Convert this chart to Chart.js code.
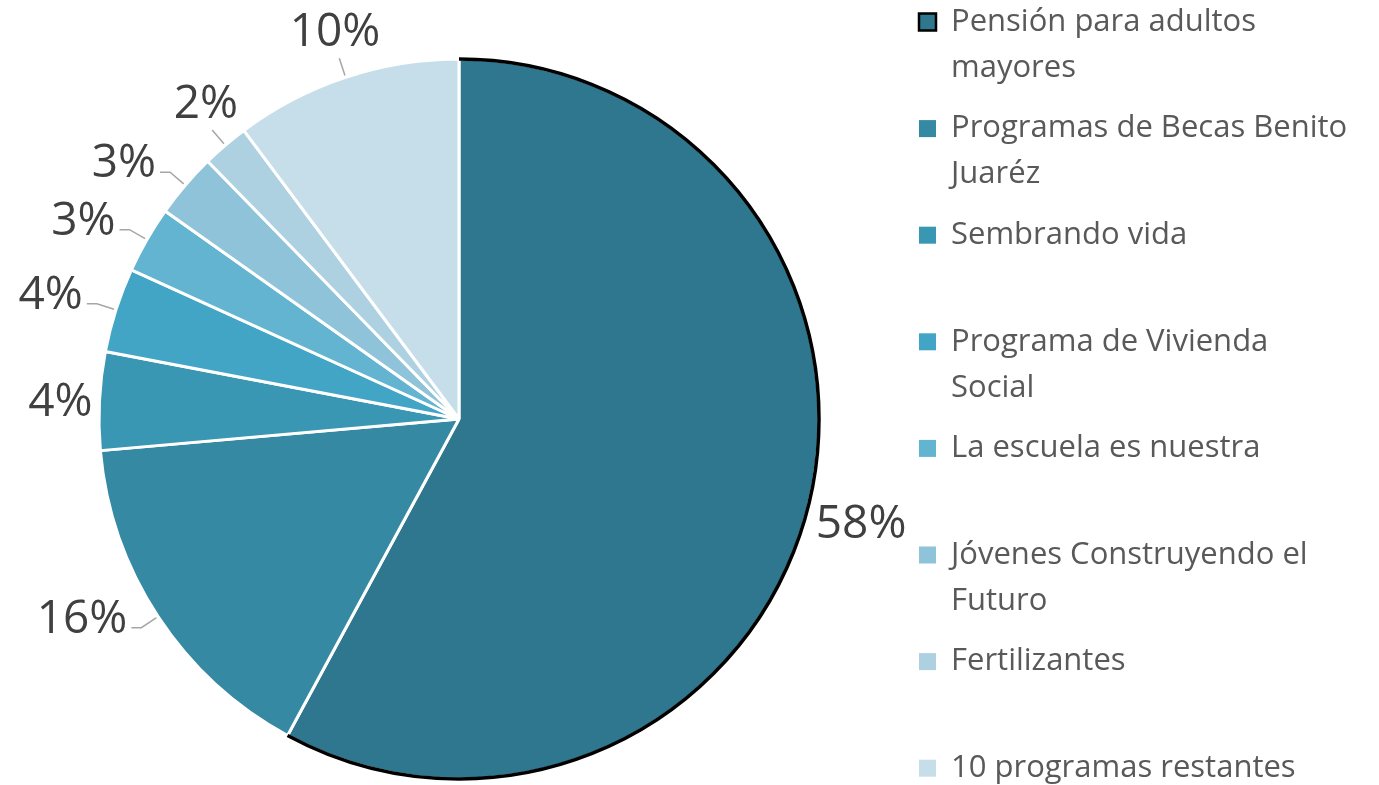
<!DOCTYPE html>
<html><head><meta charset="utf-8">
<script src="https://cdn.jsdelivr.net/npm/chart.js@4/dist/chart.umd.min.js"></script>
<style>html,body{margin:0;padding:0;background:#fff;}#wrap{width:1379px;height:785px;}</style>
</head><body><div id="wrap"><canvas id="c" width="1379" height="785"></canvas></div>
<script>
const categories = [
  ["Pensión para adultos", "mayores"],
  ["Programas de Becas Benito", "Juaréz"],
  ["Sembrando vida"],
  ["Programa de Vivienda", "Social"],
  ["La escuela es nuestra"],
  ["Jóvenes Construyendo el", "Futuro"],
  ["Fertilizantes"],
  ["10 programas restantes"]
];
const shares = [57.9, 15.7, 4.4, 3.8, 3.0, 2.9, 2.1, 10.2];
const percentLabels = shares.map(v => Math.round(v) + "%");
const colors = ["#2E778F", "#3589A3", "#3A97B4", "#42A5C6", "#63B4D1", "#8FC3D9", "#AED1E1", "#C6DEE9"];

const FONT = '"Open Sans", Lato, sans-serif';

const outlinePlugin = {
  id: 'outline',
  afterDatasetsDraw(chart) {
    const arc = chart.getDatasetMeta(0).data[0];
    const p = arc.getProps(['x','y','startAngle','endAngle','outerRadius'], true);
    const ctx = chart.ctx;
    ctx.save();
    ctx.beginPath();
    ctx.arc(p.x, p.y, p.outerRadius, p.startAngle, p.endAngle);
    ctx.strokeStyle = '#000';
    ctx.lineWidth = 3.5;
    ctx.stroke();
    ctx.restore();
  }
};

const labelPlugin = {
  id: 'pctLabels',
  afterDraw(chart) {
    const ctx = chart.ctx;
    const meta = chart.getDatasetMeta(0);
    ctx.save();
    ctx.font = '46px ' + FONT;
    ctx.fillStyle = '#404040';
    ctx.strokeStyle = '#A6A6A6';
    ctx.lineWidth = 1.5;
    ctx.textBaseline = 'alphabetic';
    meta.data.forEach((arc, i) => {
      const p = arc.getProps(['x','y','startAngle','endAngle','outerRadius'], true);
      const mid = (p.startAngle + p.endAngle) / 2;
      const dx = Math.cos(mid), dy = Math.sin(mid);
      const R = p.outerRadius;
      const txt = percentLabels[i];
      const m = ctx.measureText(txt);
      const w = m.width;
      const cap = m.actualBoundingBoxAscent;
      const h = 40;
      if (Math.abs(dy) < 0.28) {
        const D = R + Math.abs(dx) * w / 2 + Math.abs(dy) * h / 2 + 6;
        const cx = p.x + dx * D, cy = p.y + dy * D;
        ctx.textAlign = 'center';
        ctx.fillText(txt, cx, cy + cap / 2);
      } else {
        const px = p.x + dx * (R + 2), py = p.y + dy * (R + 2);
        const ex = p.x + dx * (R + 20), ey = p.y + dy * (R + 20);
        ctx.beginPath();
        ctx.moveTo(px, py);
        ctx.lineTo(ex, ey);
        if (Math.abs(dx) >= Math.abs(dy)) {
          const s = Math.sign(dx);
          const tx = ex + s * 10;
          ctx.lineTo(tx, ey);
          ctx.stroke();
          ctx.textAlign = s < 0 ? 'right' : 'left';
          ctx.fillText(txt, tx + s * 4, ey - 12 + cap / 2);
        } else {
          ctx.stroke();
          ctx.textAlign = 'center';
          ctx.fillText(txt, ex + dx * w * 0.15, ey - 12);
        }
      }
    });
    ctx.restore();
  }
};

const legendPlugin = {
  id: 'sideLegend',
  afterDraw(chart) {
    const ctx = chart.ctx;
    const x0 = 919, textX = 951, y0 = 22, step = 106.6, lineH = 46, box = 17;
    ctx.save();
    ctx.font = '31px ' + FONT;
    ctx.textBaseline = 'middle';
    ctx.textAlign = 'left';
    categories.forEach((lines, i) => {
      const y = y0 + i * step;
      ctx.fillStyle = colors[i];
      ctx.fillRect(x0, y - box / 2, box, box);
      if (i === 0) {
        ctx.strokeStyle = '#000';
        ctx.lineWidth = 2.5;
        ctx.strokeRect(x0, y - box / 2, box, box);
      }
      ctx.fillStyle = '#595959';
      lines.forEach((l, j) => ctx.fillText(l, textX, y + j * lineH));
    });
    ctx.restore();
  }
};

new Chart(document.getElementById('c'), {
  type: 'pie',
  data: {
    labels: categories,
    datasets: [{
      data: shares,
      backgroundColor: colors,
      borderColor: '#FFFFFF',
      borderWidth: 3
    }]
  },
  options: {
    responsive: false,
    animation: false,
    layout: { padding: { left: 97.5, top: 57.5, right: 558.5, bottom: 4.5 } },
    plugins: { legend: { display: false }, tooltip: { enabled: false } }
  },
  plugins: [outlinePlugin, labelPlugin, legendPlugin]
});
</script>
</body></html>
